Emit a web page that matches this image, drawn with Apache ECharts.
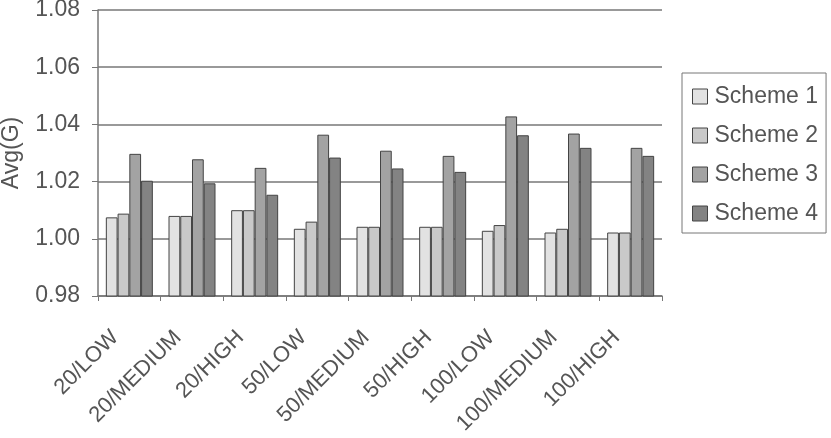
<!DOCTYPE html>
<html>
<head>
<meta charset="utf-8">
<script src="https://cdn.jsdelivr.net/npm/echarts@6/dist/echarts.min.js"></script>
<style>
html, body { margin: 0; padding: 0; background: #fff; }
#main { width: 831px; height: 438px; }
</style>
</head>
<body>
<div id="main"></div>
<script>
let categories = ['20/LOW', '20/MEDIUM', '20/HIGH', '50/LOW', '50/MEDIUM', '50/HIGH', '100/LOW', '100/MEDIUM', '100/HIGH'];
let scheme1 = [1.0075, 1.008, 1.010, 1.0035, 1.0042, 1.0042, 1.0028, 1.0022, 1.0022];
let scheme2 = [1.0088, 1.008, 1.010, 1.006, 1.0042, 1.0042, 1.0048, 1.0035, 1.0022];
let scheme3 = [1.0297, 1.0278, 1.0248, 1.0364, 1.0308, 1.029, 1.0428, 1.0368, 1.0318];
let scheme4 = [1.0203, 1.0194, 1.0154, 1.0284, 1.0246, 1.0234, 1.0362, 1.0318, 1.029];
let seriesNames = ['Scheme 1', 'Scheme 2', 'Scheme 3', 'Scheme 4'];
let colors = ['#e2e2e2', '#c9c9c9', '#a3a3a3', '#838383'];

let chartDom = document.getElementById('main');
let myChart = echarts.init(chartDom);

let allData = [scheme1, scheme2, scheme3, scheme4];
let series = allData.map((d, i) => ({
	name: seriesNames[i],
	type: 'bar',
	data: d,
	barGap: '0%',
	barCategoryGap: '25%',
	itemStyle: { color: colors[i], borderColor: '#444', borderWidth: 1 }
}));

let option = {
	animation: false,
	textStyle: { fontFamily: 'Liberation Sans, Arial, sans-serif' },
	grid: { left: 98, right: 169, top: 10, bottom: 142, containLabel: false, outerBoundsMode: 'none' },
	legend: {
		orient: 'vertical',
		left: 682,
		top: 73,
		itemWidth: 15,
		itemHeight: 15,
		itemGap: 16,
		padding: [12, 8, 8, 10],
		borderColor: '#777',
		borderWidth: 1,
		icon: 'rect',
		textStyle: { fontSize: 23, color: '#555', padding: [0, 0, 0, 2] },
		data: seriesNames.map((n, i) => ({ name: n, itemStyle: { color: colors[i], borderColor: '#444', borderWidth: 1 } }))
	},
	xAxis: {
		type: 'category',
		data: categories,
		axisLine: { lineStyle: { color: '#777', width: 1.5 } },
		axisTick: { show: true, length: 5, lineStyle: { color: '#777' } },
		axisLabel: { interval: 0, rotate: 45, fontSize: 22, color: '#555', margin: 24, padding: [0, 20, 0, 0] }
	},
	yAxis: {
		type: 'value',
		name: 'Avg(G)',
		nameLocation: 'middle',
		nameGap: 75,
		nameTextStyle: { fontSize: 23, color: '#555' },
		min: 0.98,
		max: 1.08,
		interval: 0.02,
		axisLine: { show: true, lineStyle: { color: '#777', width: 1.5 } },
		axisTick: { show: true, length: 6, inside: false, lineStyle: { color: '#777' } },
		axisLabel: { fontSize: 23, color: '#555', formatter: v => v.toFixed(2), margin: 18, padding: [4, 0, 0, 0] },
		splitLine: { show: true, lineStyle: { color: '#777', width: 1.5 } }
	},
	series: series
};

myChart.setOption(option);
</script>
</body>
</html>
